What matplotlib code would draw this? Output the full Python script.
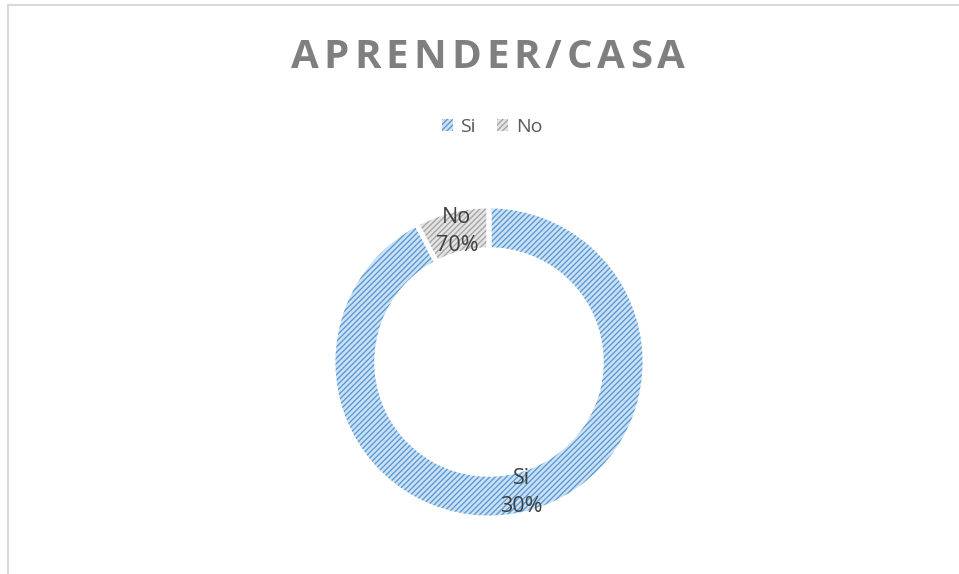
import matplotlib
matplotlib.use("Agg")
import matplotlib.pyplot as plt
from matplotlib.lines import Line2D
import numpy as np

plt.rcParams['font.family'] = ['Open Sans', 'DejaVu Sans']
plt.rcParams['hatch.linewidth'] = 1.0

categories = ["Si", "No"]
values = [92.3, 7.7]
label_texts = ["Si\n30%", "No\n70%"]
title = "APRENDER/CASA"

face_colors = ["#cde1f4", "#e4e4e4"]
hatch_colors = ["#5b9bd5", "#a5a5a5"]

W, H, DPI = 959, 574, 100
fig = plt.figure(figsize=(W / DPI, H / DPI), dpi=DPI)
fig.patch.set_facecolor("white")

# chart border (top & left visible)
fig.add_artist(Line2D([8 / W, 1], [1 - 5 / H, 1 - 5 / H], color="#d9d9d9", lw=1.5))
fig.add_artist(Line2D([8 / W, 8 / W], [0, 1 - 5 / H], color="#d9d9d9", lw=1.5))

cx, cy, R = 489, 362, 156
ax = fig.add_axes([(cx - R) / W, (H - cy - R) / H, 2 * R / W, 2 * R / H])
ax.set_aspect("equal")
ax.axis("off")

width = 0.28
wedges, _ = ax.pie(values, startangle=90, counterclock=False, radius=1,
                   wedgeprops=dict(width=width, linewidth=0))
for w, fc, hc in zip(wedges, face_colors, hatch_colors):
    w.set_facecolor(fc)
    w.set_edgecolor(hc)
    w.set_linewidth(0)
    w.set_hatch("//////")

# white separators
ax.pie(values, startangle=90, counterclock=False, radius=1,
       wedgeprops=dict(width=width, linewidth=3.5, edgecolor="white", fill=False))

# data labels
total = sum(values)
start = 90.0
rmid = 1 - width / 2
for v, t in zip(values, label_texts):
    ang = start - 360 * v / total / 2
    start -= 360 * v / total
    x = rmid * np.cos(np.deg2rad(ang))
    y = rmid * np.sin(np.deg2rad(ang))
    ax.text(x, y, t, ha="center", va="center", fontsize=15.5, color="#404040",
            linespacing=1.45)
ax.set_xlim(-1, 1)
ax.set_ylim(-1, 1)

# title with letter spacing
renderer = fig.canvas.get_renderer()
tkw = dict(fontsize=29, fontweight="bold", color="#7f7f7f", va="center", ha="left")
widths = []
for ch in title:
    t = fig.text(0, 0, ch, **tkw)
    widths.append(t.get_window_extent(renderer).width)
    t.remove()
spacing = 5.0
total_w = sum(widths) + spacing * (len(title) - 1)
x = 488 - total_w / 2
for ch, wdt in zip(title, widths):
    fig.text(x / W, 1 - 57 / H, ch, **tkw)
    x += wdt + spacing

# legend
leg = fig.legend(wedges, categories, loc="center", bbox_to_anchor=(492 / W, 1 - 127 / H),
                 ncol=2, frameon=False, fontsize=14, handlelength=0.55, handleheight=0.55,
                 handletextpad=0.4, columnspacing=1.1, labelcolor="#595959")

fig.savefig("out.png", dpi=DPI, facecolor="white")
